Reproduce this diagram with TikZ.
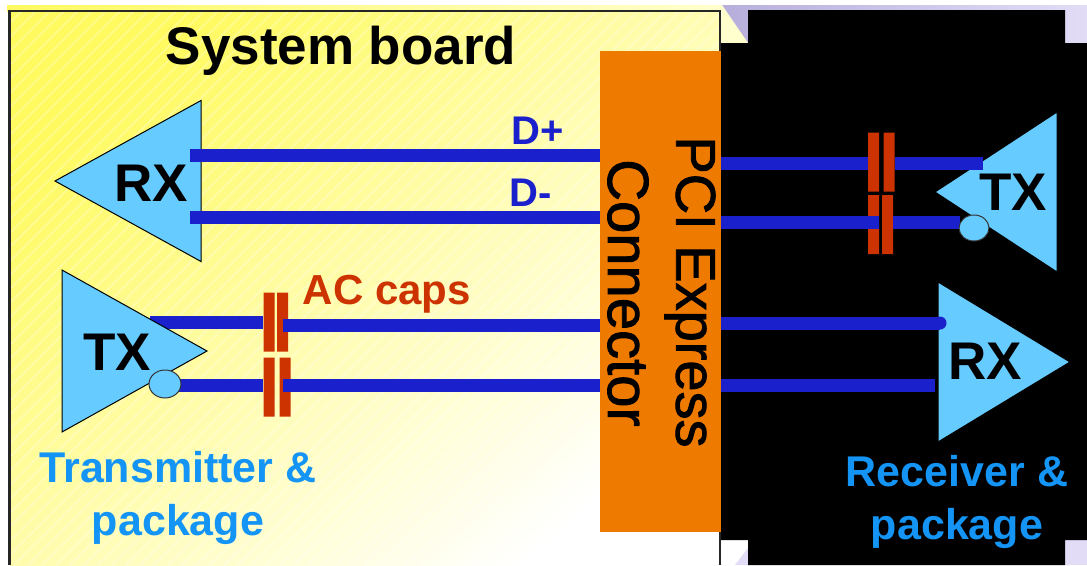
\documentclass[tikz,border=0pt]{standalone}
\usepackage{fontspec}
\setmainfont{Liberation Sans}
\newfontfamily\heavyfont[FakeBold=1.5]{Liberation Sans}
\usetikzlibrary{shapes.geometric,shapes.misc}
\definecolor{wireblue}{RGB}{26,32,204}
\definecolor{triblue}{RGB}{102,204,255}
\definecolor{capred}{RGB}{204,51,0}
\definecolor{connorange}{RGB}{238,122,0}
\definecolor{pkgblue}{RGB}{20,148,245}
\definecolor{lavender}{RGB}{226,220,246}
\definecolor{lavdark}{RGB}{184,174,220}
\definecolor{boardyellow}{RGB}{255,250,96}
\definecolor{boardpale}{RGB}{255,255,205}
\begin{document}
\begin{tikzpicture}[x=1pt,y=-1pt,
                    trinode/.style = {shape = isosceles triangle,
                                      isosceles triangle stretches,
                                      fill = triblue,
                                      draw = black,
                                      line width = 1pt,
                                      inner sep = 0pt,
                                      outer sep = 0pt,
                                      anchor = apex},
                    bubble/.style = {shape = ellipse,
                                     fill = triblue,
                                     draw = black!80,
                                     line width = 1pt,
                                     inner sep = 0pt},
                    capnode/.style = {shape = chamfered rectangle,
                                      chamfered rectangle xsep = 2pt,
                                      chamfered rectangle ysep = 3pt,
                                      fill = capred,
                                      inner sep = 0pt,
                                      minimum width = 11pt,
                                      minimum height = 59pt},
                    wire/.style = {draw = wireblue,
                                   line width = 13pt},
                    mtext/.style = {font = \fontsize{53}{60}\selectfont\bfseries,
                                    inner sep = 0pt},
                    pkgtext/.style = {font = \fontsize{43}{53.5}\selectfont\bfseries,
                                      text = pkgblue,
                                      align = center,
                                      inner sep = 0pt}]
	\useasboundingbox (0,0) rectangle (1087,565);
	\fill[white] (0,0) rectangle (1087,565);
	% the slide behind the board
	\shade[left color = boardyellow, right color = boardpale] (7,5) rectangle (722,11);
	\shade[left color = lavdark, right color = lavender] (722,5) rectangle (1087,43);
	\fill[boardpale] (722,5) -- (748,43) -- (720,43) -- cycle;
	\fill[lavender] (1065,540) rectangle (1087,565);
	\fill[lavender] (748,548) -- (748,565) -- (735,565) -- cycle;
	% system board
	\shade[left color = boardyellow, middle color = boardpale, right color = white, shading angle = 40]
		(10,11) rectangle (720,565);
	\begin{scope}
		\clip (10,11) rectangle (720,565);
		\foreach \i in {-560,-546,...,1280}
			\draw[white, opacity = 0.3, line width = 1.5pt] (\i,565) -- (\i+554,11);
	\end{scope}
	\draw[black!85, line width = 2.5pt] (9.5,565) -- (9.5,11) -- (720,11) -- (720,565);
	% add-in card
	\fill[black] (748,10) -- (1065,10) -- (1065,43) -- (1087,43) -- (1087,540) -- (1065,540)
		-- (1065,565) -- (748,565) -- (748,540) -- (721,540) -- (721,43) -- (748,43) -- cycle;
	\node[fill = connorange, inner sep = 0pt, minimum width = 121pt, minimum height = 481pt] (conn) at (660.5,291.5) {};
	\node[rotate = -90, inner sep = 0pt, font = \fontsize{56}{60}\selectfont\heavyfont] (pci) at (690,292) {PCI Express};
	\node[rotate = -90, inner sep = 0pt, font = \fontsize{58}{60}\selectfont\heavyfont] (cname) at (628,293) {Connector};
	% triangles
	\node[trinode, shape border rotate = 180, minimum height = 146pt, minimum width = 161pt] (rxa) at (55,181) {};
	\node[trinode, shape border rotate = 180, minimum height = 122pt, minimum width = 160pt] (txb) at (935,192) {};
	\node[trinode, minimum height = 132pt, minimum width = 160pt] (rxb) at (1070,362) {};
	% capacitor plates
	\node[capnode] (c1a) at (269,322) {};
	\node[capnode] (c1b) at (282.5,322) {};
	\node[capnode] (c2a) at (269,387) {};
	\node[capnode] (c2b) at (285,387) {};
	\node[capnode] (c3a) at (873.5,162) {};
	\node[capnode] (c3b) at (889,162) {};
	\node[capnode] (c4a) at (873.5,224.5) {};
	\node[capnode] (c4b) at (887.5,224.5) {};
	% wire ends
	\coordinate (p1) at (190,155);
	\coordinate (p2) at (190,217.5);
	\coordinate (p3) at (150,322.5);
	\coordinate (p4) at (283,325);
	\coordinate (p5) at (165,385);
	\coordinate (p6) at (283,385);
	\coordinate (p7) at (983,163);
	\coordinate (p8) at (960,222);
	\coordinate (p9) at (940,323);
	\coordinate (p10) at (935,385);
	\path[wire] (p1) edge (conn.west |- p1);
	\path[wire] (p2) edge (conn.west |- p2);
	\path[wire] (p3) edge (c1a.west |- p3);
	\path[wire] (p4) edge (conn.west |- p4);
	\path[wire] (p5) edge (c2a.west |- p5);
	\path[wire] (p6) edge (conn.west |- p6);
	\path[wire] (conn.east |- p7) edge (c3a.west |- p7);
	\path[wire] (c3b.east |- p7) edge (p7);
	\path[wire] (conn.east |- p8) edge (c4a.east |- p8);
	\path[wire] (c4b.east |- p8) edge (p8);
	\path[wire] (conn.east |- p9) edge (p9);
	\path[wire] (conn.east |- p10) edge (p10);
	\fill[wireblue] (p9) circle[radius = 6.5pt];
	% this one goes over its wire
	\node[trinode, minimum height = 145pt, minimum width = 162pt] (txa) at (207,351) {};
	\node[bubble, minimum width = 32pt, minimum height = 28pt] (ba) at (165,384) {};
	\node[bubble, minimum width = 30pt, minimum height = 26pt] (bb) at (974,228) {};
	% labels
	\node[mtext] (sys) at (341,51) {System board};
	\node[mtext] (rxal) at (151,183) {RX};
	\node[mtext] (txal) at (117,352) {TX};
	\node[mtext] (txbl) at (1013,192) {TX};
	\node[mtext] (rxbl) at (985,361) {RX};
	\node[font = \fontsize{40}{48}\selectfont\bfseries, text = wireblue, inner sep = 0pt] (dp) at (538,131) {D+};
	\node[font = \fontsize{40}{48}\selectfont\bfseries, text = wireblue, inner sep = 0pt] (dm) at (531,193) {D-};
	\node[font = \fontsize{42}{48}\selectfont\bfseries, text = capred, inner sep = 0pt] (acl) at (387,294) {AC caps};
	\node[pkgtext] (tpk) at (178,498) {Transmitter \&\\package};
	\node[pkgtext] (rpk) at (957,502) {Receiver \&\\package};
\end{tikzpicture}
\end{document}
